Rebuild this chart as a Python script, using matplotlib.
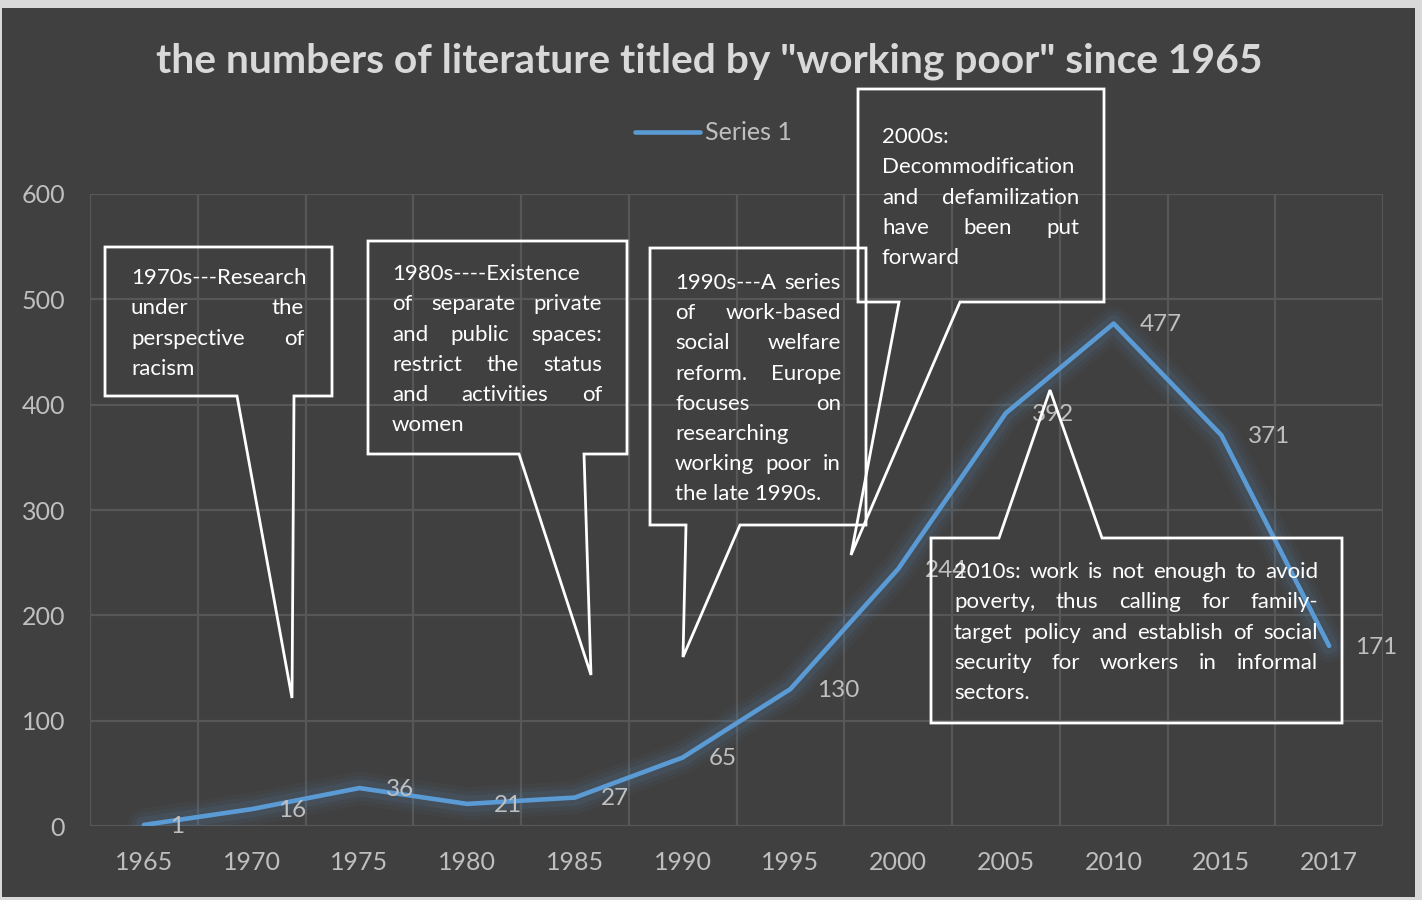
import numpy as np
import matplotlib
matplotlib.use("Agg")
import matplotlib.pyplot as plt
from matplotlib.patches import Rectangle, Polygon

# data
years = ["1965", "1970", "1975", "1980", "1985", "1990", "1995",
         "2000", "2005", "2010", "2015", "2017"]
counts = [1, 16, 36, 21, 27, 65, 130, 244, 392, 477, 371, 171]
y_ticks = [0, 100, 200, 300, 400, 500, 600]

title = 'the numbers of literature titled by "working poor" since 1965'

notes_1970 = ["1970s---Research", "under the", "perspective of", "racism"]
notes_1980 = ["1980s----Existence", "of separate private", "and public spaces:",
              "restrict the status", "and activities of", "women"]
notes_1990 = ["1990s---A series", "of work-based", "social welfare",
              "reform. Europe", "focuses on", "researching",
              "working poor in", "the late 1990s."]
notes_2000 = ["2000s:", "Decommodification", "and defamilization",
              "have been put", "forward"]
notes_2010 = ["2010s: work is not enough to avoid",
              "poverty, thus calling for family-",
              "target policy and establish of social",
              "security for workers in informal",
              "sectors."]

W, H = 1422, 900
BG = "#404040"
GRID = "#575757"
LINE = "#5B9BD5"
LABEL = "#BFBFBF"
FONT = "Lato"

plt.rcParams['font.family'] = [FONT, 'DejaVu Sans']

fig = plt.figure(figsize=(W / 100, H / 100), dpi=100, facecolor="#d9d9d9")
fig.patches.append(Rectangle((2 / W, 3 / H), 1413 / W, 889 / H,
                             transform=fig.transFigure, facecolor=BG,
                             edgecolor="none", zorder=-10))


def fx(x):
    return x / W


def fy(y):
    return 1 - y / H


ax = fig.add_axes([fx(90), fy(826), (1383 - 90) / W, (826 - 194) / H])
ax.set_facecolor("none")
x = np.arange(len(years))

# glow + line
for lw, a in [(24, 0.04), (18, 0.06), (12, 0.09)]:
    ax.plot(x, counts, color=LINE, lw=lw, alpha=a, solid_capstyle="round",
            solid_joinstyle="round", zorder=2)
ax.plot(x, counts, color=LINE, lw=3.3, solid_capstyle="round",
        solid_joinstyle="round", zorder=3, label="Series 1")

for xi, v in zip(x, counts):
    ax.annotate(str(v), (xi, v), xytext=(19, -1), textcoords="offset points",
                ha="left", va="center", color=LABEL, fontsize=17.5, zorder=4)

ax.set_xlim(-0.5, len(years) - 0.5)
ax.set_ylim(0, 600)
ax.set_yticks(y_ticks)
ax.set_xticks(x)
ax.set_xticklabels(years)
ax.set_xticks(np.arange(-0.5, len(years)), minor=True)
ax.tick_params(axis="both", which="both", length=0, colors=LABEL, labelsize=18)
ax.tick_params(axis="x", pad=18)
ax.tick_params(axis="y", pad=18)
ax.grid(True, axis="y", which="major", color=GRID, lw=1.6)
ax.grid(True, axis="x", which="minor", color=GRID, lw=1.6)
ax.grid(False, axis="x", which="major")
for s in ax.spines.values():
    s.set_visible(False)

fig.text(fx(709), fy(61), title, ha="center", va="center", color="#D9D9D9",
         fontsize=29.3, fontweight="bold")

fig.legend(loc="center", bbox_to_anchor=(fx(713), fy(133)), frameon=False,
           fontsize=18, labelcolor=LABEL, handlelength=2.6, handletextpad=0.2)

# callout shapes (pixel outline of each speech bubble)
callouts = [
    [(105, 247), (332, 247), (332, 396), (294, 396), (292, 698), (237, 396), (105, 396)],
    [(368, 241), (627, 241), (627, 454), (584, 454), (591, 675), (519, 454), (368, 454)],
    [(650, 248), (866, 248), (866, 525), (740, 525), (683, 657), (686, 525), (650, 525)],
    [(858, 89), (1104, 89), (1104, 302), (960, 302), (851, 555), (899, 302), (858, 302)],
    [(931, 538), (999, 538), (1050, 390), (1102, 538), (1342, 538), (1342, 723), (931, 723)],
]
for pts in callouts:
    fig.patches.append(Polygon([(fx(a), fy(b)) for a, b in pts], closed=True,
                               transform=fig.transFigure, facecolor="none",
                               edgecolor="white", lw=2, zorder=5))

renderer = fig.canvas.get_renderer()


def justified(lines, left, right, top, step, size=16):
    for i, line in enumerate(lines):
        y = fy(top + i * step)
        words = line.split()
        if len(words) == 1 or i == len(lines) - 1:
            fig.text(fx(left), y, line, ha="left", va="center", color="white",
                     fontsize=size, zorder=6)
            continue
        ts = [fig.text(0, y, w, ha="left", va="center", color="white",
                       fontsize=size, zorder=6) for w in words]
        widths = [t.get_window_extent(renderer).width for t in ts]
        gap = (right - left - sum(widths)) / (len(words) - 1)
        pos = left
        for t, w in zip(ts, widths):
            t.set_x(fx(pos))
            pos += w + gap


justified(notes_1970, 131, 304, 278, 30.4)
justified(notes_1980, 392, 602, 274, 30.3)
justified(notes_1990, 675, 841, 283, 30.2)
justified(notes_2000, 882, 1079, 137, 30.3)
justified(notes_2010, 954, 1318, 572, 30.3)

fig.savefig("out.png", dpi=100, facecolor=fig.get_facecolor())
